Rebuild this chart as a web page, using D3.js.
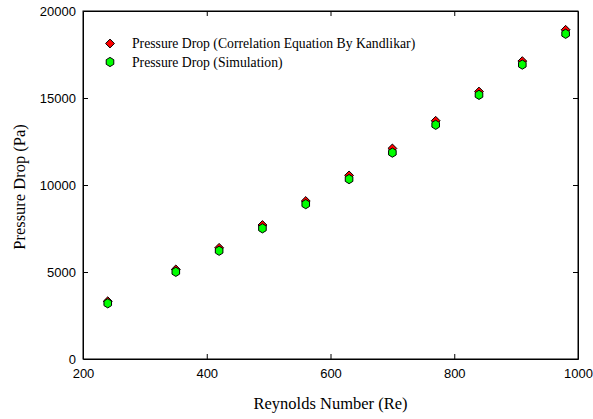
<!DOCTYPE html>
<html>
<head>
<meta charset="utf-8">
<script src="https://cdn.jsdelivr.net/npm/d3@7"></script>
<style>
  html, body { margin: 0; padding: 0; background: #fff; }
  svg { display: block; }
</style>
</head>
<body>
<svg id="chart" width="593" height="419"></svg>
<script>
// Reynolds numbers of the test cases
const reynolds = [240, 350, 420, 490, 560, 630, 700, 770, 840, 910, 980];
// Pressure drop from the Kandlikar correlation (Pa)
const dpKandlikar = [3320, 5150, 6390, 7700, 9080, 10550, 12100, 13690, 15370, 17120, 18920];
// Pressure drop from the simulation (Pa)
const dpSimulation = [3200, 5010, 6220, 7510, 8900, 10340, 11860, 13460, 15180, 16920, 18690];

const xTicks = [200, 400, 600, 800, 1000];
const yTicks = [0, 5000, 10000, 15000, 20000];
const seriesNames = [
  "Pressure Drop (Correlation Equation By Kandlikar)",
  "Pressure Drop (Simulation)"
];

const margin = { left: 83, right: 15, top: 11, bottom: 60 };
const W = 593, H = 419;
const svg = d3.select("#chart");

const x = d3.scaleLinear().domain([200, 1000]).range([margin.left, W - margin.right]);
const y = d3.scaleLinear().domain([0, 20000]).range([H - margin.bottom, margin.top]);

const tickFont = "'Liberation Sans', Arial, sans-serif";
const serif = "'Liberation Serif', 'Times New Roman', serif";

// Frame
svg.append("rect")
  .attr("x", x(200)).attr("y", y(20000))
  .attr("width", x(1000) - x(200)).attr("height", y(0) - y(20000))
  .attr("fill", "none").attr("stroke", "#000").attr("stroke-width", 1);

// Axes with inward ticks on all four sides
const axBottom = svg.append("g").attr("transform", `translate(0,${y(0)})`)
  .call(d3.axisBottom(x).tickValues(xTicks).tickSizeInner(-5).tickSizeOuter(0).tickPadding(10).tickFormat(d3.format("d")));
const axTop = svg.append("g").attr("transform", `translate(0,${y(20000)})`)
  .call(d3.axisTop(x).tickValues(xTicks).tickSizeInner(-5).tickSizeOuter(0).tickFormat(""));
const axLeft = svg.append("g").attr("transform", `translate(${x(200)},0)`)
  .call(d3.axisLeft(y).tickValues(yTicks).tickSizeInner(-5).tickSizeOuter(0).tickPadding(7).tickFormat(d3.format("d")));
const axRight = svg.append("g").attr("transform", `translate(${x(1000)},0)`)
  .call(d3.axisRight(y).tickValues(yTicks).tickSizeInner(-5).tickSizeOuter(0).tickFormat(""));

[axBottom, axTop, axLeft, axRight].forEach(g => {
  g.select(".domain").attr("stroke", "#000");
  g.selectAll(".tick line").attr("stroke", "#000");
  g.selectAll("text").attr("font-family", tickFont).attr("font-size", 13).attr("fill", "#000");
});
// Hide end ticks that sit on the frame corners
axBottom.selectAll(".tick").filter(d => d === 200 || d === 1000).select("line").remove();
axTop.selectAll(".tick").filter(d => d === 200 || d === 1000).select("line").remove();
axLeft.selectAll(".tick").filter(d => d === 0 || d === 20000).select("line").remove();
axRight.selectAll(".tick").filter(d => d === 0 || d === 20000).select("line").remove();

// Axis titles
svg.append("text")
  .attr("x", (x(200) + x(1000)) / 2).attr("y", 409)
  .attr("text-anchor", "middle").attr("font-family", serif).attr("font-size", 16.5)
  .text("Reynolds Number (Re)");
svg.append("text")
  .attr("transform", `translate(25,187) rotate(-90)`)
  .attr("text-anchor", "middle").attr("font-family", serif).attr("font-size", 16.5)
  .text("Pressure Drop (Pa)");

// Marker shapes
const diamondPath = d3.symbol().type(d3.symbolDiamond2).size(50)();
function hexPath(r) {
  const pts = d3.range(6).map(i => {
    const a = Math.PI / 2 + i * Math.PI / 3;
    return [r * 0.95 * Math.cos(a), -r * Math.sin(a)];
  });
  return "M" + pts.map(p => p.join(",")).join("L") + "Z";
}
const hex = hexPath(4.6);

// Kandlikar correlation points (red diamonds)
svg.append("g").selectAll("path")
  .data(reynolds.map((re, i) => [re, dpKandlikar[i]]))
  .join("path")
  .attr("d", diamondPath)
  .attr("transform", d => `translate(${x(d[0])},${y(d[1])})`)
  .attr("fill", "#ff0000").attr("stroke", "#000").attr("stroke-width", 1);

// Simulation points (green hexagons)
svg.append("g").selectAll("path")
  .data(reynolds.map((re, i) => [re, dpSimulation[i]]))
  .join("path")
  .attr("d", hex)
  .attr("transform", d => `translate(${x(d[0])},${y(d[1])})`)
  .attr("fill", "#00ff00").attr("stroke", "#000").attr("stroke-width", 1);

// Legend
const legend = svg.append("g");
legend.append("path").attr("d", diamondPath).attr("transform", "translate(110,43.5)")
  .attr("fill", "#ff0000").attr("stroke", "#000");
legend.append("path").attr("d", hex).attr("transform", "translate(110,62)")
  .attr("fill", "#00ff00").attr("stroke", "#000");
legend.selectAll("text").data(seriesNames).join("text")
  .attr("x", 132).attr("y", (d, i) => 48 + i * 18.5)
  .attr("font-family", serif).attr("font-size", 13.7)
  .text(d => d);
</script>
</body>
</html>
